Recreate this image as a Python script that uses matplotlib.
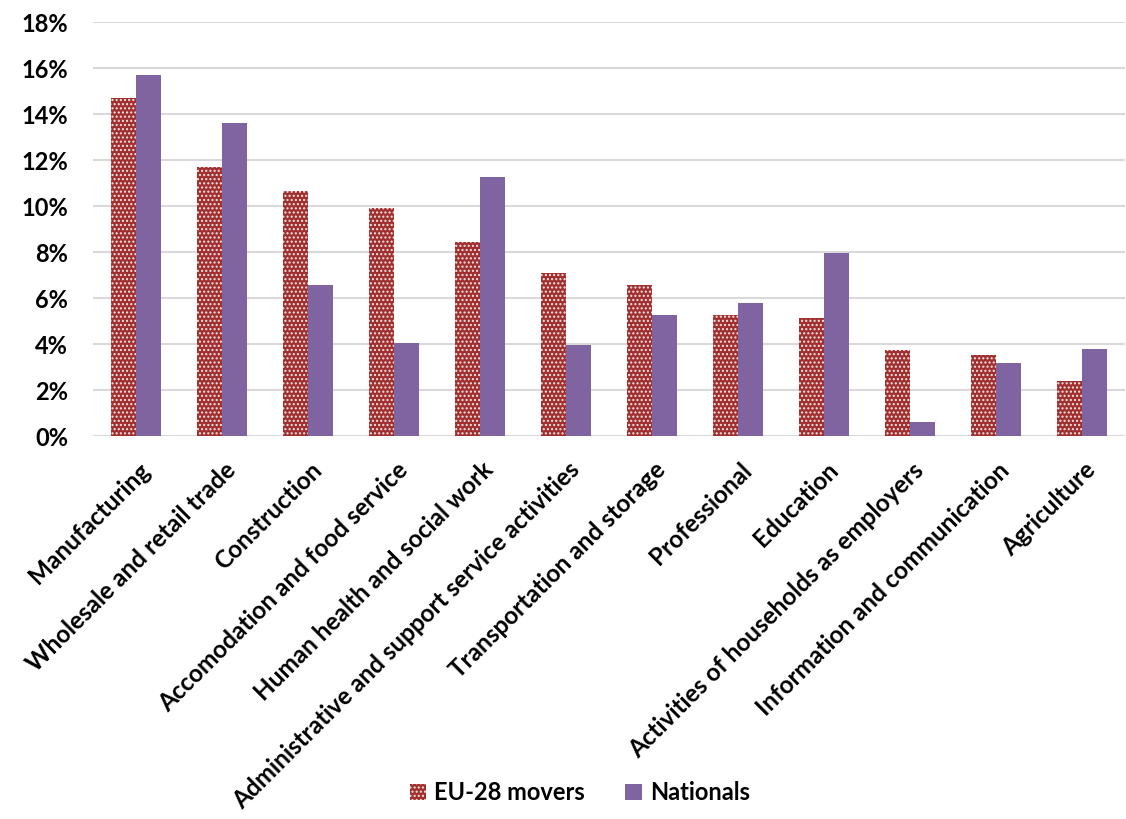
import matplotlib.pyplot as plt
import matplotlib.patches as mpatches
import numpy as np

plt.rcParams['font.family'] = ['Lato', 'DejaVu Sans']
plt.rcParams['hatch.linewidth'] = 1.0

categories = ['Manufacturing', 'Wholesale and retail trade', 'Construction',
              'Accomodation and food service', 'Human health and social work',
              'Administrative and support service activities',
              'Transportation and storage', 'Professional', 'Education',
              'Activities of households as employers',
              'Information and communication', 'Agriculture']
eu_movers = [14.7, 11.68, 10.65, 9.9, 8.42, 7.07, 6.57, 5.26, 5.12, 3.74, 3.51, 2.38]
nationals = [15.7, 13.62, 6.57, 4.03, 11.27, 3.96, 5.26, 5.77, 7.94, 0.59, 3.19, 3.78]
yticks = [0, 2, 4, 6, 8, 10, 12, 14, 16, 18]

red = '#A02F2F'
purple = '#8064A2'
dots = '#F6E4E4'

fig = plt.figure(figsize=(11.26, 8.19), dpi=100)
ax = fig.add_axes([0.0826, 0.4676, 0.9165, 0.5055])

x = np.arange(len(categories))
w = 0.29
ax.bar(x - w / 2, np.array(eu_movers) / 100, w, color=red, edgecolor=dots,
       hatch='....', linewidth=0, zorder=3)
ax.bar(x + w / 2, np.array(nationals) / 100, w, color=purple, linewidth=0, zorder=3)

ax.set_xlim(-0.5, len(categories) - 0.5)
ax.set_ylim(0, 0.18)
ax.set_yticks([v / 100 for v in yticks])
ax.set_yticklabels([f'{v}%' for v in yticks], fontsize=17, fontweight='bold')
ax.yaxis.grid(True, color='#D9D9D9', linewidth=1.5, zorder=0)
ax.set_axisbelow(True)
for s in ax.spines.values():
    s.set_visible(False)
ax.tick_params(axis='both', length=0)
ax.tick_params(axis='y', pad=18)

ax.set_xticks(x + 0.02)
ax.set_xticklabels(categories, rotation=45, ha='right', va='top',
                   rotation_mode='anchor', fontsize=17.5, fontweight='bold')
ax.tick_params(axis='x', pad=16)

handles = [mpatches.Patch(facecolor=red, edgecolor=dots, hatch='....', linewidth=0,
                          label='EU-28 movers'),
           mpatches.Patch(facecolor=purple, label='Nationals')]
leg = fig.legend(handles=handles, loc='center', bbox_to_anchor=(0.515, 0.032), ncol=2,
                 frameon=False, handlelength=0.7, handleheight=0.7, handletextpad=0.35,
                 columnspacing=1.7, prop={'size': 17, 'weight': 'bold'})

fig.savefig('out.png', dpi=100)
